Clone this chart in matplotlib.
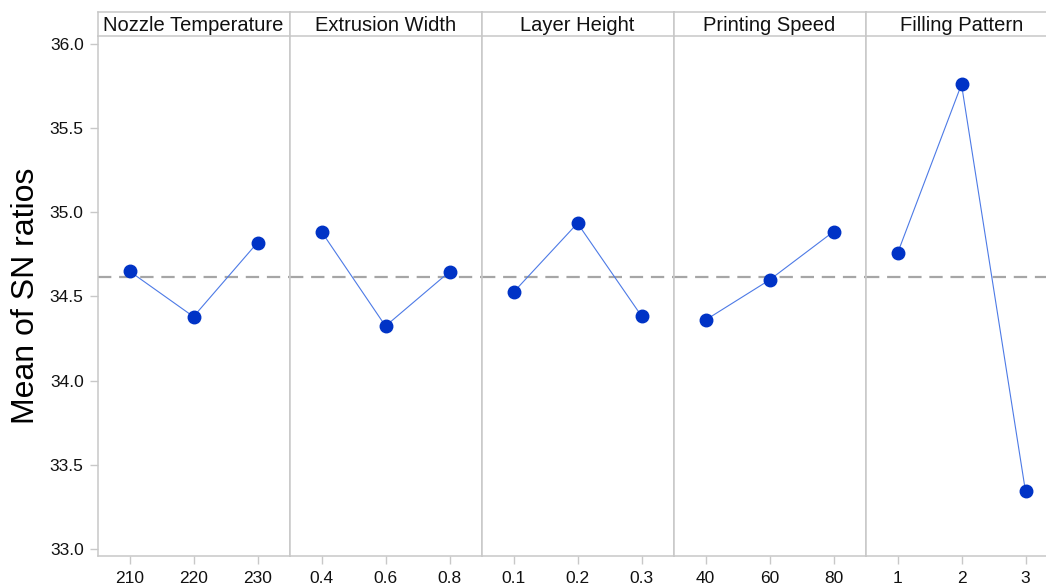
import matplotlib
matplotlib.use("Agg")
import matplotlib.pyplot as plt

plt.rcParams['font.family'] = ['Liberation Sans', 'DejaVu Sans']

factors = ["Nozzle Temperature", "Extrusion Width", "Layer Height",
           "Printing Speed", "Filling Pattern"]
levels = [["210", "220", "230"],
          ["0.4", "0.6", "0.8"],
          ["0.1", "0.2", "0.3"],
          ["40", "60", "80"],
          ["1", "2", "3"]]
nozzle_temperature = [34.65, 34.38, 34.82]
extrusion_width = [34.885, 34.324, 34.647]
layer_height = [34.525, 34.935, 34.384]
printing_speed = [34.36, 34.598, 34.885]
filling_pattern = [34.756, 35.76, 33.342]
overall_mean = 34.617
yticks = [33.0, 33.5, 34.0, 34.5, 35.0, 35.5, 36.0]

series = [nozzle_temperature, extrusion_width, layer_height,
          printing_speed, filling_pattern]

W, H = 1046, 585
fig = plt.figure(figsize=(W / 100, H / 100), dpi=100)

grid = "#c8c8c8"
marker_c = "#0033c6"
line_c = "#4d7ae6"

x0 = 97.5
pw = 192.0
top_strip = 12
strip_bot = 36
ax_bot = 556

axes = []
for i, (name, labs, vals) in enumerate(zip(factors, levels, series)):
    left = (x0 + i * pw) / W
    ax = fig.add_axes([left, (H - ax_bot) / H, pw / W, (ax_bot - strip_bot) / H],
                      sharey=axes[0] if axes else None)
    axes.append(ax)
    xs = list(range(1, len(labs) + 1))
    ax.plot(xs, vals, color=line_c, lw=0.8, zorder=3)
    ax.plot(xs, vals, 'o', color=marker_c, ms=9, mec=marker_c, zorder=4)
    ax.axhline(overall_mean, color="#a6a6a6", lw=1.6, dashes=[6, 3.5], zorder=2)
    ax.set_xlim(0.5, len(labs) + 0.5)
    ax.set_ylim(32.958, 36.0475)
    ax.set_xticks(xs)
    ax.set_xticklabels(labs, fontsize=12.5, color="#111111")
    ax.tick_params(axis='x', length=6, color=grid, width=1, pad=5)
    for s in ax.spines.values():
        s.set_color(grid)
        s.set_linewidth(1.1)
    ax.spines['top'].set_visible(False)
    if i == 0:
        ax.set_yticks(yticks)
        ax.set_yticklabels([f"{v:.1f}" for v in yticks], fontsize=12.5, color="#111111")
        ax.tick_params(axis='y', length=6, color=grid, width=1, pad=4)
        ax.set_ylabel("Mean of SN ratios", fontsize=23, labelpad=6)
    else:
        ax.tick_params(axis='y', left=False, labelleft=False)
    ax.set_facecolor("white")

    sax = fig.add_axes([left, (H - strip_bot) / H, pw / W, (strip_bot - top_strip) / H])
    sax.set_xticks([])
    sax.set_yticks([])
    for s in sax.spines.values():
        s.set_color(grid)
        s.set_linewidth(1.1)
    sax.text(0.5, 0.45, name, ha='center', va='center', fontsize=14.5,
             color="#111111", transform=sax.transAxes)

fig.savefig("out.png", dpi=100, facecolor="white")
